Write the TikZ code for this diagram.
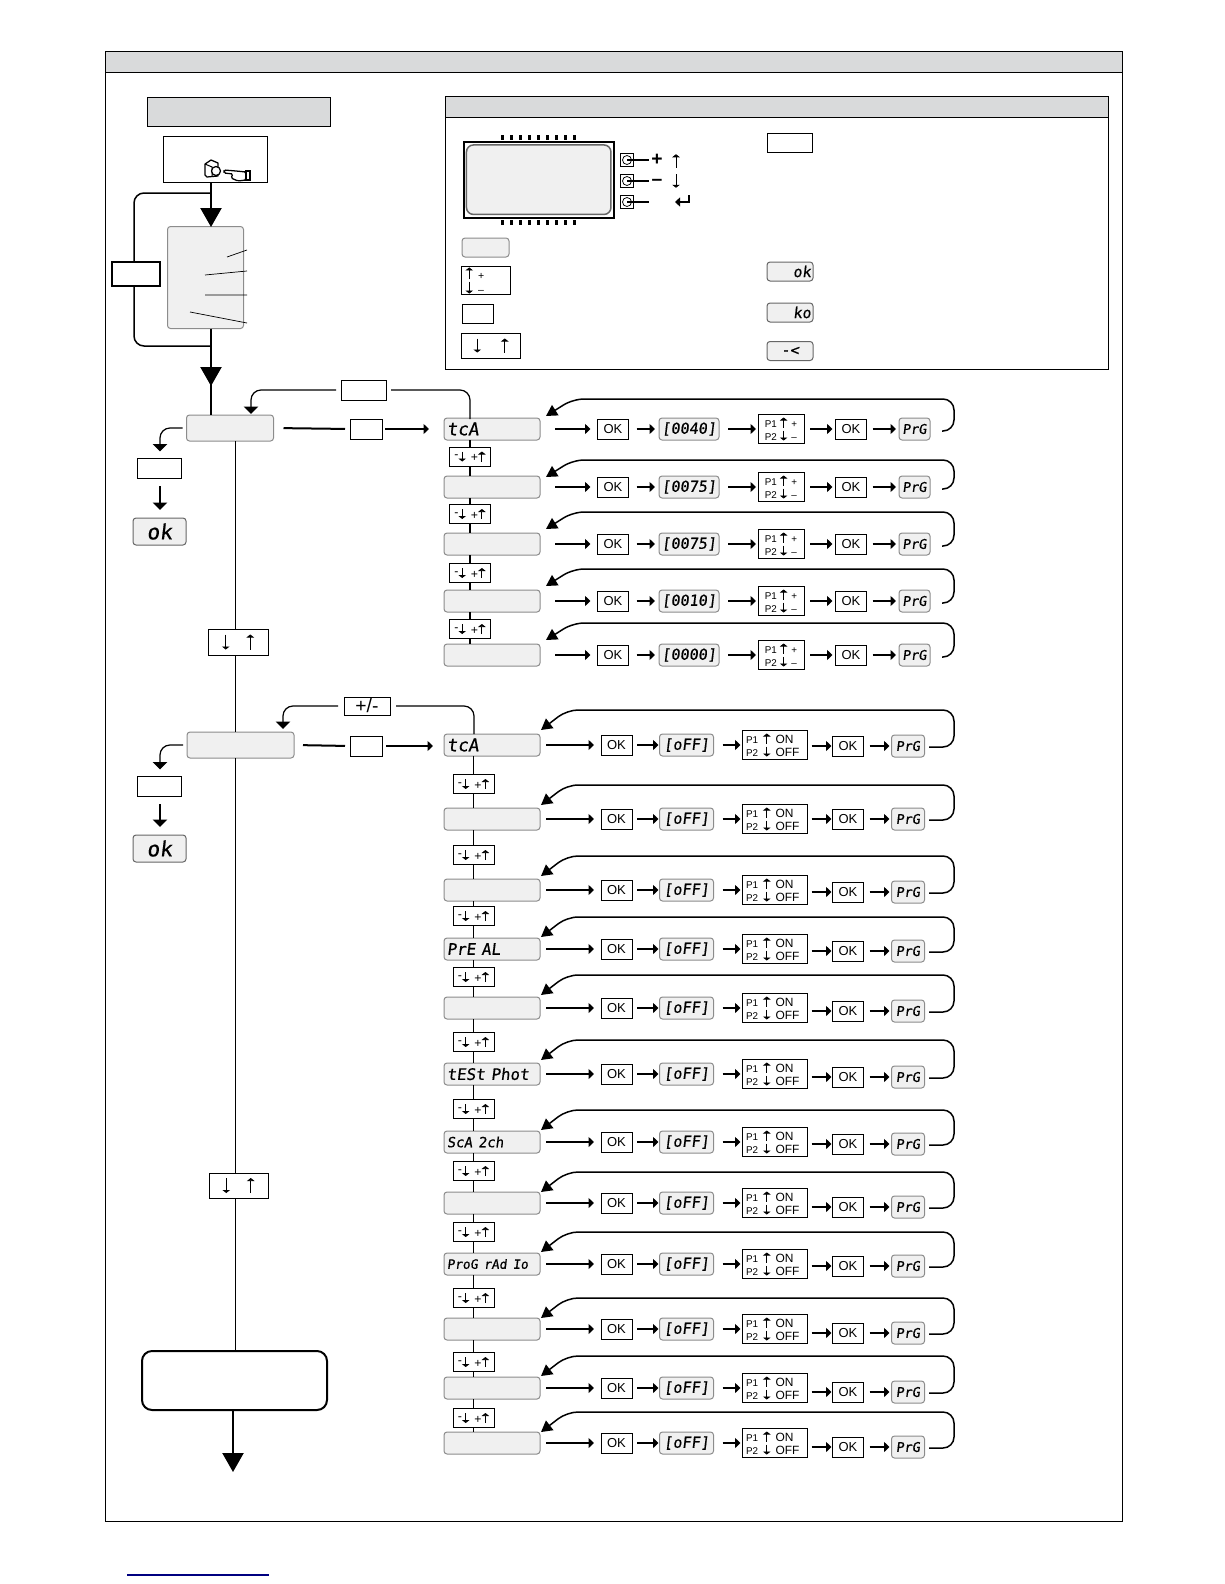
\documentclass[tikz,border=0pt]{standalone}
\usepackage{fontspec}
\setmainfont{Liberation Sans}
\newfontfamily\lcdfont{DejaVu Sans Mono}[FakeSlant=.12,FakeBold=.5]
\usetikzlibrary{arrows.meta,calc}
\definecolor{headgrey}{HTML}{D9DADB}
\definecolor{lcdgrey}{HTML}{F0F0F0}
\newcommand{\keyup}[1][2mm]{\tikz[baseline=0pt]\draw[line width=.2mm,-{Triangle[width=1.5mm,length=.6mm]}] (0,0) -- (0,#1);}
\newcommand{\keydn}[1][2mm]{\tikz[baseline=0pt]\draw[line width=.2mm,-{Triangle[width=1.5mm,length=.6mm]}] (0,#1) -- (0,0);}
\tikzset{
  sz/.style 2 args={minimum width=#1*.2mm,minimum height=#2*.2mm,inner sep=0pt,outer sep=0pt},
  gaps/.style 2 args={shorten <=#1*.2mm,shorten >=#2*.2mm},
  plainbox/.style={draw,line width=.2mm,fill=white},
  headbar/.style={draw,line width=.2mm,fill=headgrey},
  lcdbar/.style={draw=black!45,line width=.2mm,fill=lcdgrey,rounded corners=.6mm},
  okbox/.style={plainbox,sz={31}{20},font=\fontsize{7.4}{8}\selectfont},
  keybox/.style={plainbox,sz={41}{19},font=\fontsize{7}{8}\selectfont},
  pbox/.style={plainbox,font=\fontsize{5.6}{7.4}\selectfont,align=left},
  flow/.style={line width=.3mm,-{Triangle[width=2mm,length=1.1mm]}},
  loopflow/.style={line width=.3mm,rounded corners=2.2mm,-{Triangle[width=2.4mm,length=2.2mm]}},
  bigflow/.style={line width=.45mm,-{Triangle[width=4.2mm,length=3.8mm]}},
  smallflow/.style={line width=.25mm,-{Triangle[width=2.9mm,length=1.5mm]}},
  thinline/.style={line width=.25mm},
  lcdtext/.style={font=\fontsize{#1}{#1}\lcdfont},
}
\begin{document}
\begin{tikzpicture}[x=.2mm,y=-.2mm]
\useasboundingbox (0,0) rectangle (1224,1584);
% outer frame and the two panels
\node[draw,line width=.2mm,sz={1017}{1469}] (frame) at (613.5,786.5) {};
\node[headbar,sz={1017}{20.5}] (framehead) at (613.5,62.2) {};
\node[draw,line width=.2mm,sz={663}{272}] (legend) at (776.5,233) {};
\node[headbar,sz={663}{20.5}] (legendhead) at (776.5,107.2) {};
\node[headbar,sz={183}{28}] (starthead) at (238.5,112) {};
\draw[blue!50!black,line width=.25mm] (127,1575) -- (269,1575);
% start box with the key and the hand
\node[plainbox,sz={104}{46}] (start) at (215,159) {};
\draw[line width=.25mm,line join=round] (205,164) -- (211,160) -- (218,163) -- (218,176) -- (207,177) -- (205,175) -- cycle;
\draw[line width=.2mm] (205,164) -- (212,167) -- (212,176);
\draw[line width=.25mm,fill=white] (216,171) circle (4.5);
\draw[line width=.25mm,fill=white,rounded corners=.3mm] (224,170) -- (236,171) -- (246,172) -- (246,180) -- (238,181) -- (231,178) -- (233,174) -- (224,173) -- cycle;
\draw[line width=.25mm,fill=white] (246,171) rectangle (250,180);
% first block, with the way round it
\node[lcdbar,sz={76}{102}] (info) at (205.5,277.5) {};
\draw (227,257) -- (247,250) (205,275) -- (247,271) (205,295) -- (247,295) (190,312) -- (247,323);
\node[lcdbar,sz={87}{26}] (menua) at (230,428) {};
\node[lcdbar,sz={107}{26}] (menub) at (240.5,745) {};
\coordinate (ina) at (211,415);
\coordinate (tap) at (211,193);
\coordinate (tapb) at (211,346);
\coordinate (tipinfo) at (211,227);
\draw[bigflow] (211,183) -- (tipinfo);
\draw[line width=.45mm] (info.south -| tapb) -- (ina);
\draw[bigflow] (tapb) -- (211,386);
\node[draw,line width=.4mm,fill=white,sz={48}{24}] (esc) at (136,273.5) {};
\draw[line width=.3mm,rounded corners=2mm] (tap) -| (134,261);
\draw[line width=.3mm,rounded corners=2mm] (134,286) |- (tapb);
% right of the two menu blocks
\node[plainbox,sz={32}{20}] (entera) at (366,429) {};
\node[plainbox,sz={32}{20}] (enterb) at (366,746) {};
\node[plainbox,sz={45}{20}] (backa) at (363.5,390) {};
\node[plainbox,sz={46}{18},font=\fontsize{11}{11}\selectfont] (backb) at (367,706) {+/-};
\draw[line width=.4mm,gaps={10}{5}] (menua.east) -- (entera.west);
\draw[line width=.4mm,gaps={9}{5}] (menub.east) -- (enterb.west);
% left exit of the menu blocks
\foreach \n/\m/\yt/\ye/\yo in {a/menua/428/468.5/531.5,b/menub/745/786.5/848.5}{
  \node[plainbox,sz={44}{19.5}] (exit\n) at (159,\ye) {};
  \node[lcdbar,draw=black!60,sz={53}{27},lcdtext=12] (okbig\n) at (159.5,\yo) {ok};
  \draw[smallflow,rounded corners=2mm,gaps={4}{0}] (\m.west) -- (160,\yt) -- (160,\ye-17);
  \draw[smallflow,gaps={8}{8}] (exit\n.south -| 160,0) -- (okbig\n.north -| 160,0);
}
% main line going down
\node[plainbox,sz={60}{26}] (nexta) at (238,642) {\keydn[3mm]\hspace{3.4mm}\keyup[3mm]};
\node[plainbox,sz={59}{25}] (nextb) at (238.5,1185.5) {\keydn[3mm]\hspace{3.4mm}\keyup[3mm]};
\node[draw,line width=.4mm,fill=white,rounded corners=2mm,sz={185}{59}] (finish) at (234.5,1380.5) {};
\draw[thinline] (nexta.north -| 235.5,0) -- (235.5,441);
\draw[thinline] (nexta.south -| 235.5,0) -- (235.5,732);
\draw[thinline] (235.5,758) -- (nextb.north -| 235.5,0);
\draw[thinline] (nextb.south -| 235.5,0) -- (finish.north -| 235.5,0);
\draw[bigflow] (finish.south -| 233,0) -- (233,1472);
% legend
\node[draw,line width=.25mm,sz={150}{76}] (lcd) at (539,180) {};
\node[lcdbar,draw=black!60,line width=.3mm,rounded corners=1.4mm,sz={144.5}{69.5}] (lcdpanel) at (538.7,179.7) {};
\foreach \x in {0,...,8}{
  \fill (501+\x*9,135) rectangle +(3.4,5);
  \fill (501+\x*9,220) rectangle +(3.4,5);
}
\foreach \y/\s in {160/a,181/b,202/c}{
  \node[plainbox,sz={13}{13}] (btn\s) at (627,\y) {};
  \draw[line width=.15mm] (627,\y) circle (4.5);
  \draw[line width=.25mm] (btn\s.center) -- (649,\y);
}
\node[inner sep=0pt,font=\fontsize{11}{11}\selectfont\bfseries] (plus) at (657,159.5) {+};
\node[inner sep=0pt,font=\fontsize{11}{11}\selectfont\bfseries] (minus) at (657,182) {--};
\node (upkey) at (676,161) {\keyup[2.7mm]};
\node (dnkey) at (676,181) {\keydn[2.7mm]};
\draw[line width=.3mm,-{Triangle[width=1.8mm,length=1mm]}] (689,195) |- (675,202);
\node[lcdbar,sz={47}{19}] (legshow) at (485.5,247.5) {};
\node[plainbox,sz={48.5}{28},font=\fontsize{6}{8}\selectfont,text width=8.2mm,align=left] (legset) at (486,280.5) {\keyup[2.4mm]\hspace{1mm}+\\\keydn[2.4mm]\hspace{1mm}--};
\node[plainbox,sz={31}{19}] (legok) at (477.5,313.5) {};
\node[plainbox,sz={59}{25}] (legscroll) at (491,345.5) {\keydn[2.8mm]\hspace{4mm}\keyup[2.8mm]};
\node[plainbox,sz={45}{19}] (legplain) at (789.5,142.5) {};
\node[lcdbar,draw=black!60,sz={46}{19},lcdtext=8.5,text width=8.4mm,align=right] (legyes) at (790,271.5) {ok};
\node[lcdbar,draw=black!60,sz={46}{19},lcdtext=8.5,text width=8.4mm,align=right] (legno) at (790,312.5) {ko};
\node[lcdbar,draw=black!60,sz={46}{19},lcdtext=8.5] (legrev) at (790,351) {-<};
% numeric settings
\foreach \n/\y/\t/\ky/\val/\lab [remember=\n as \p (initially 0)] in {
  1/429/399/0/{[0040]}/{tcA},2/487/460/456.5/{[0075]}/{},3/544/512/514/{[0075]}/{},
  4/601/569/573/{[0010]}/{},5/655/623/629/{[0000]}/{}}{
  \node[lcdbar,sz={96}{22},lcdtext=10,text width=18mm,align=left] (u\n) at (492,\y) {\lab};
  \node[okbox] (uo\n) at (613,\y) {OK};
  \node[lcdbar,sz={60}{22},lcdtext=8.6] (uv\n) at (689,\y) {\val};
  \node[pbox,sz={46}{28.5}] (up\n) at (781,\y) {P1\hspace{.6mm}\keyup\hspace{.8mm}+\\P2\hspace{.6mm}\keydn\hspace{.8mm}--};
  \node[okbox] (uk\n) at (851,\y) {OK};
  \node[lcdbar,sz={31}{22},lcdtext=7.6] (ug\n) at (914.5,\y) {PrG};
  \draw[flow,gaps={15}{7}] (u\n.east) -- (uo\n.west);
  \draw[flow,gaps={8}{4}] (uo\n.east) -- (uv\n.west);
  \draw[flow,gaps={9}{2}] (uv\n.east) -- (up\n.west);
  \draw[flow,gaps={6}{3}] (up\n.east) -- (uk\n.west);
  \draw[flow,gaps={6}{3}] (uk\n.east) -- (ug\n.west);
  \coordinate (ub\n) at (942,\y+2);
  \coordinate (ut\n) at (546,\t+17);
  \draw[loopflow] (ub\n) -- (954,\y+2) -- (954,\t) -- (573,\t) -- (ut\n);
  \ifnum\n>1
    \node[keybox] (uq\n) at (470,\ky) {\raisebox{1.6pt}{-}\keydn\hspace{1mm}+\keyup};
    \draw[thinline] (u\p.south -| uq\n) -- (uq\n);
    \draw[thinline] (uq\n.south) -- (u\n.north -| uq\n);
  \fi
}
% connections into the numeric settings
\coordinate (intoua) at (470,419);
\draw[thinline,rounded corners=2mm,gaps={5}{0}] (backa.east) -| (intoua);
\draw[smallflow,rounded corners=2mm,gaps={5}{0}] (backa.west) -| (251,414);
\draw[flow,line width=.4mm,gaps={3}{0}] (entera.east) -- (429,429);
% on/off settings
\foreach \n/\y/\yb/\t/\ky/\lab [remember=\n as \p (initially 0)] in {
  1/745/746/710/0/{tcA},2/819/819/785/784/{},3/890/892/856/855/{},4/949/951/917/916/{\fontsize{9}{9}\selectfont PrE AL},
  5/1008/1011/975/977/{},6/1074/1077/1040/1042/{\fontsize{9}{9}\selectfont tESt Phot},7/1142/1144/1110/1109/{\fontsize{8}{8}\selectfont ScA 2ch},
  8/1203/1207/1172/1171/{},9/1264/1266/1232/1232/{\fontsize{7.3}{8}\selectfont ProG rAd Io},10/1329/1333/1298/1298/{},
  11/1388/1392/1356/1362/{},12/1443/1447/1412/1418/{}}{
  \node[lcdbar,sz={96}{22},lcdtext=10,text width=18mm,align=left] (r\n) at (492,\y) {\lab};
  \node[okbox] (ro\n) at (616.5,\y) {OK};
  \node[lcdbar,sz={54}{22},lcdtext=8.6] (rv\n) at (686.5,\y) {[oFF]};
  \node[pbox,sz={65}{29},text width=11.6mm] (rp\n) at (775,\y) {P1\hspace{1mm}\keyup\hspace{1mm}{\fontsize{6.8}{7}\selectfont ON}\\P2\hspace{1mm}\keydn\hspace{1mm}{\fontsize{6.8}{7}\selectfont OFF}};
  \node[okbox] (rk\n) at (848,\yb) {OK};
  \node[lcdbar,sz={33}{22},lcdtext=7.6] (rg\n) at (908,\yb) {PrG};
  \draw[flow,gaps={6}{7}] (r\n.east) -- (ro\n.west);
  \draw[flow,gaps={5}{1}] (ro\n.east) -- (rv\n.west);
  \draw[flow,gaps={9}{2}] (rv\n.east) -- (rp\n.west);
  \draw[flow,gaps={4}{1}] (rk\n.west -| rp\n.east) -- (rk\n.west);
  \draw[flow,gaps={6}{2}] (rk\n.east) -- (rg\n.west);
  \coordinate (rb\n) at (929,\yb+1);
  \coordinate (rt\n) at (541,\t+20);
  \draw[loopflow] (rb\n) -- (954,\yb+1) -- (954,\t) -- (567,\t) -- (rt\n);
  \ifnum\n>1
    \node[keybox] (rq\n) at (473.5,\ky) {\raisebox{1.6pt}{-}\keydn\hspace{1mm}+\keyup};
    \draw[thinline] (r\p.south -| rq\n) -- (rq\n);
    \draw[thinline] (rq\n.south) -- (r\n.north -| rq\n);
  \fi
}
% connections into the on/off settings
\coordinate (intora) at (474,734);
\draw[thinline,rounded corners=2mm,gaps={6}{0}] (backb.east) -| (intora);
\draw[smallflow,rounded corners=2mm,gaps={6}{0}] (backb.west) -| (283,729);
\draw[flow,gaps={4}{0}] (enterb.east) -- (433,746);
\end{tikzpicture}
\end{document}
